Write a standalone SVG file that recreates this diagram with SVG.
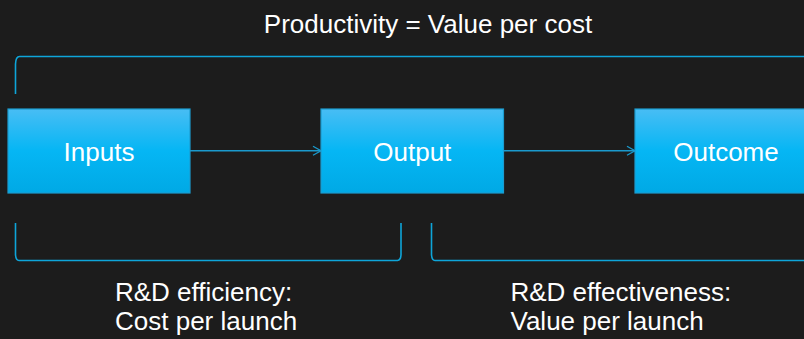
<svg xmlns="http://www.w3.org/2000/svg" width="804" height="339" viewBox="0 0 804 339">
<style>
text{font-family:"Liberation Sans",Arial,sans-serif;fill:#ffffff;font-size:26px}
.box{fill:url(#g);stroke:#1b9ccf;stroke-width:1.2}
.mid{text-anchor:middle}
.br{fill:none;stroke:#0ea5d9;stroke-width:1.6}
.ar{fill:none;stroke:#1a9acd;stroke-width:1.4}
</style>
<defs>
<linearGradient id="g" x1="0" y1="0" x2="0" y2="1">
<stop offset="0" stop-color="#48bdf4"/>
<stop offset="0.5" stop-color="#05b6f4"/>
<stop offset="1" stop-color="#00a9e5"/>
</linearGradient>
<marker id="arr" markerWidth="12" markerHeight="12" refX="10" refY="6" orient="auto" markerUnits="userSpaceOnUse">
<path d="M2,1.5 L10,6 L2,10.5" fill="none" stroke="#1a9acd" stroke-width="1.3"/>
</marker>
</defs>
<rect width="804" height="339" fill="#1c1c1c"/>
<text class="mid" x="428" y="33">Productivity = Value per cost</text>
<g id="brackets">
<path class="br" d="M15.5,94 L15.5,64 Q15.8,56.5 19.5,56.5 L804,56.5"/>
<path class="br" d="M15.5,223 L15.5,255 Q16,260.5 19,260.5 L397.5,260.5 Q400.7,260 401,255 L401,223"/>
<path class="br" d="M431.5,223 L431.5,255 Q432,260.5 435,260.5 L804,260.5"/>
</g>
<g id="connectors">
<line class="ar" x1="190" y1="150.7" x2="321" y2="150.7" marker-end="url(#arr)"/>
<line class="ar" x1="504" y1="150.7" x2="635" y2="150.7" marker-end="url(#arr)"/>
</g>
<g id="inputs">
<rect class="box" x="8" y="109" width="182" height="84"/>
<text class="mid" x="99" y="161">Inputs</text>
</g>
<g id="output">
<rect class="box" x="321" y="109" width="182.5" height="84"/>
<text class="mid" x="412.3" y="161">Output</text>
</g>
<g id="outcome">
<rect class="box" x="635" y="109" width="182" height="84"/>
<text class="mid" x="726" y="161">Outcome</text>
</g>
<g id="efficiency">
<text x="115" y="301">R&amp;D efficiency:</text>
<text x="115" y="330">Cost per launch</text>
</g>
<g id="effectiveness">
<text x="510.5" y="301">R&amp;D effectiveness:</text>
<text x="510.5" y="330">Value per launch</text>
</g>
</svg>
